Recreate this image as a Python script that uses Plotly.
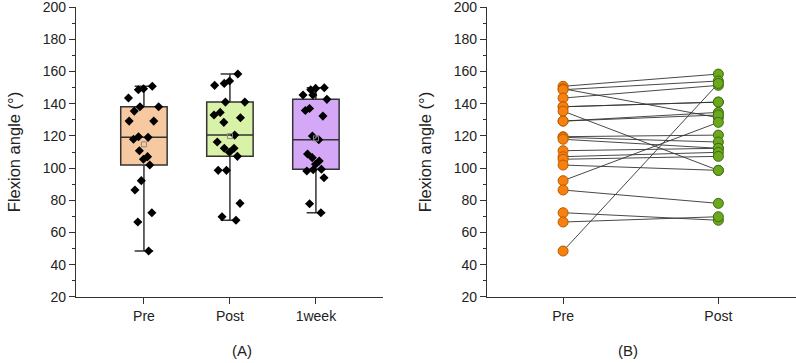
import numpy as np
import plotly.graph_objects as go
from plotly.subplots import make_subplots

# ---- data ----
groups = ["Pre", "Post", "1week"]
pre = [150.8, 149.3, 148.7, 143.5, 138.1, 138.1, 135.4, 129.2, 129.2, 119.5, 119.1,
       117.9, 110.8, 107.1, 105.5, 101.9, 92.2, 86.4, 72.3, 66.5, 48.5]
post = [158.4, 131.3, 154.1, 151.4, 141.0, 141.0, 98.6, 134.6, 133.0, 120.5, 116.2,
        112.3, 112.3, 109.8, 107.3, 98.6, 128.4, 78.1, 67.6, 69.8, 152.6]
week1 = [149.9, 149.5, 148.7, 145.4, 145.4, 142.7, 137.0, 135.8, 132.3, 119.9, 117.6,
         108.8, 106.5, 104.4, 102.4, 99.3, 99.0, 98.2, 94.0, 77.9, 72.3]
pair_labels = ["Pre", "Post"]
yticks = [20, 40, 60, 80, 100, 120, 140, 160, 180, 200]

fills = ["#F7C9A0", "#D8F3A8", "#D4A8F6"]
box_line = "#333333"
axis_col = "#333333"
FONT = "Liberation Sans, Arial, sans-serif"

fig = make_subplots(rows=1, cols=2, horizontal_spacing=0.1)

for name, vals, fc in zip(groups, [pre, post, week1], fills):
    fig.add_trace(go.Box(
        x=[name] * len(vals), y=vals, name=name,
        fillcolor=fc, line=dict(color=box_line, width=1.5),
        boxpoints="all", jitter=0.8, pointpos=0, quartilemethod="inclusive",
        marker=dict(symbol="diamond", size=7, color="black"),
        width=0.54, whiskerwidth=0.4, showlegend=False,
    ), row=1, col=1)

# mean markers
fig.add_trace(go.Scatter(
    x=groups, y=[float(np.mean(v)) for v in [pre, post, week1]],
    mode="markers", marker=dict(symbol="square-open", size=5, color="#8a8a8a", line=dict(width=1)),
    showlegend=False, hoverinfo="skip"), row=1, col=1)

# paired lines
lx, ly = [], []
for a, b in zip(pre, post):
    lx += [pair_labels[0], pair_labels[1], None]
    ly += [a, b, None]
fig.add_trace(go.Scatter(x=lx, y=ly, mode="lines", line=dict(color="#333333", width=0.9),
                         showlegend=False, hoverinfo="skip"), row=1, col=2)
fig.add_trace(go.Scatter(x=[pair_labels[0]] * len(pre), y=pre, mode="markers",
                         marker=dict(size=10, color="#F7800F", line=dict(color="#B85C00", width=1)),
                         showlegend=False), row=1, col=2)
fig.add_trace(go.Scatter(x=[pair_labels[1]] * len(post), y=post, mode="markers",
                         marker=dict(size=10, color="#6BA81E", line=dict(color="#3E6B10", width=1)),
                         showlegend=False), row=1, col=2)

tickfont = dict(family=FONT, size=14, color="#222222")
yaxis_common = dict(
    range=[19.95, 200.05], tickvals=yticks, ticks="outside", ticklen=6, tickwidth=1.3,
    tickcolor=axis_col, showline=True, linecolor=axis_col, linewidth=1.3,
    showgrid=False, zeroline=False, tickfont=tickfont, automargin=False,
    ticklabeloverflow="allow",
    minor=dict(ticks="outside", ticklen=3, tickwidth=1.3, tickcolor=axis_col,
               tickvals=list(range(30, 200, 20)), showgrid=False),
    title=dict(text="Flexion angle (°)", font=dict(family=FONT, size=16.5, color="#222222"), standoff=17),
)
xaxis_common = dict(
    type="category", ticks="outside", ticklen=6, tickwidth=1.3, tickcolor=axis_col,
    showline=True, linecolor=axis_col, linewidth=1.3, showgrid=False, zeroline=False,
    tickfont=tickfont, automargin=False, ticklabeloverflow="allow",
)
fig.update_yaxes(**yaxis_common)
fig.update_xaxes(**xaxis_common)
fig.update_xaxes(domain=[76 / 796, 383 / 796], range=[-0.79, 2.78],
                 categoryorder="array", categoryarray=groups, row=1, col=1)
fig.update_xaxes(domain=[487 / 796, 1.0], range=[-0.49, 1.5],
                 categoryorder="array", categoryarray=pair_labels, row=1, col=2)

fig.add_annotation(text="(A)", x=230 / 796, y=-0.183, xref="paper", yref="paper",
                   showarrow=False, yanchor="middle",
                   font=dict(family=FONT, size=15, color="#222222"))
fig.add_annotation(text="(B)", x=640 / 796, y=-0.183, xref="paper", yref="paper",
                   showarrow=False, yanchor="middle",
                   font=dict(family=FONT, size=15, color="#222222"))

fig.update_layout(
    width=796, height=363, margin=dict(l=0, r=0, t=7, b=66, autoexpand=False),
    plot_bgcolor="white", paper_bgcolor="white", boxmode="overlay",
)
fig.write_html("out.html", post_script="document.body.style.margin='0px';",
               config={"displayModeBar": False})
